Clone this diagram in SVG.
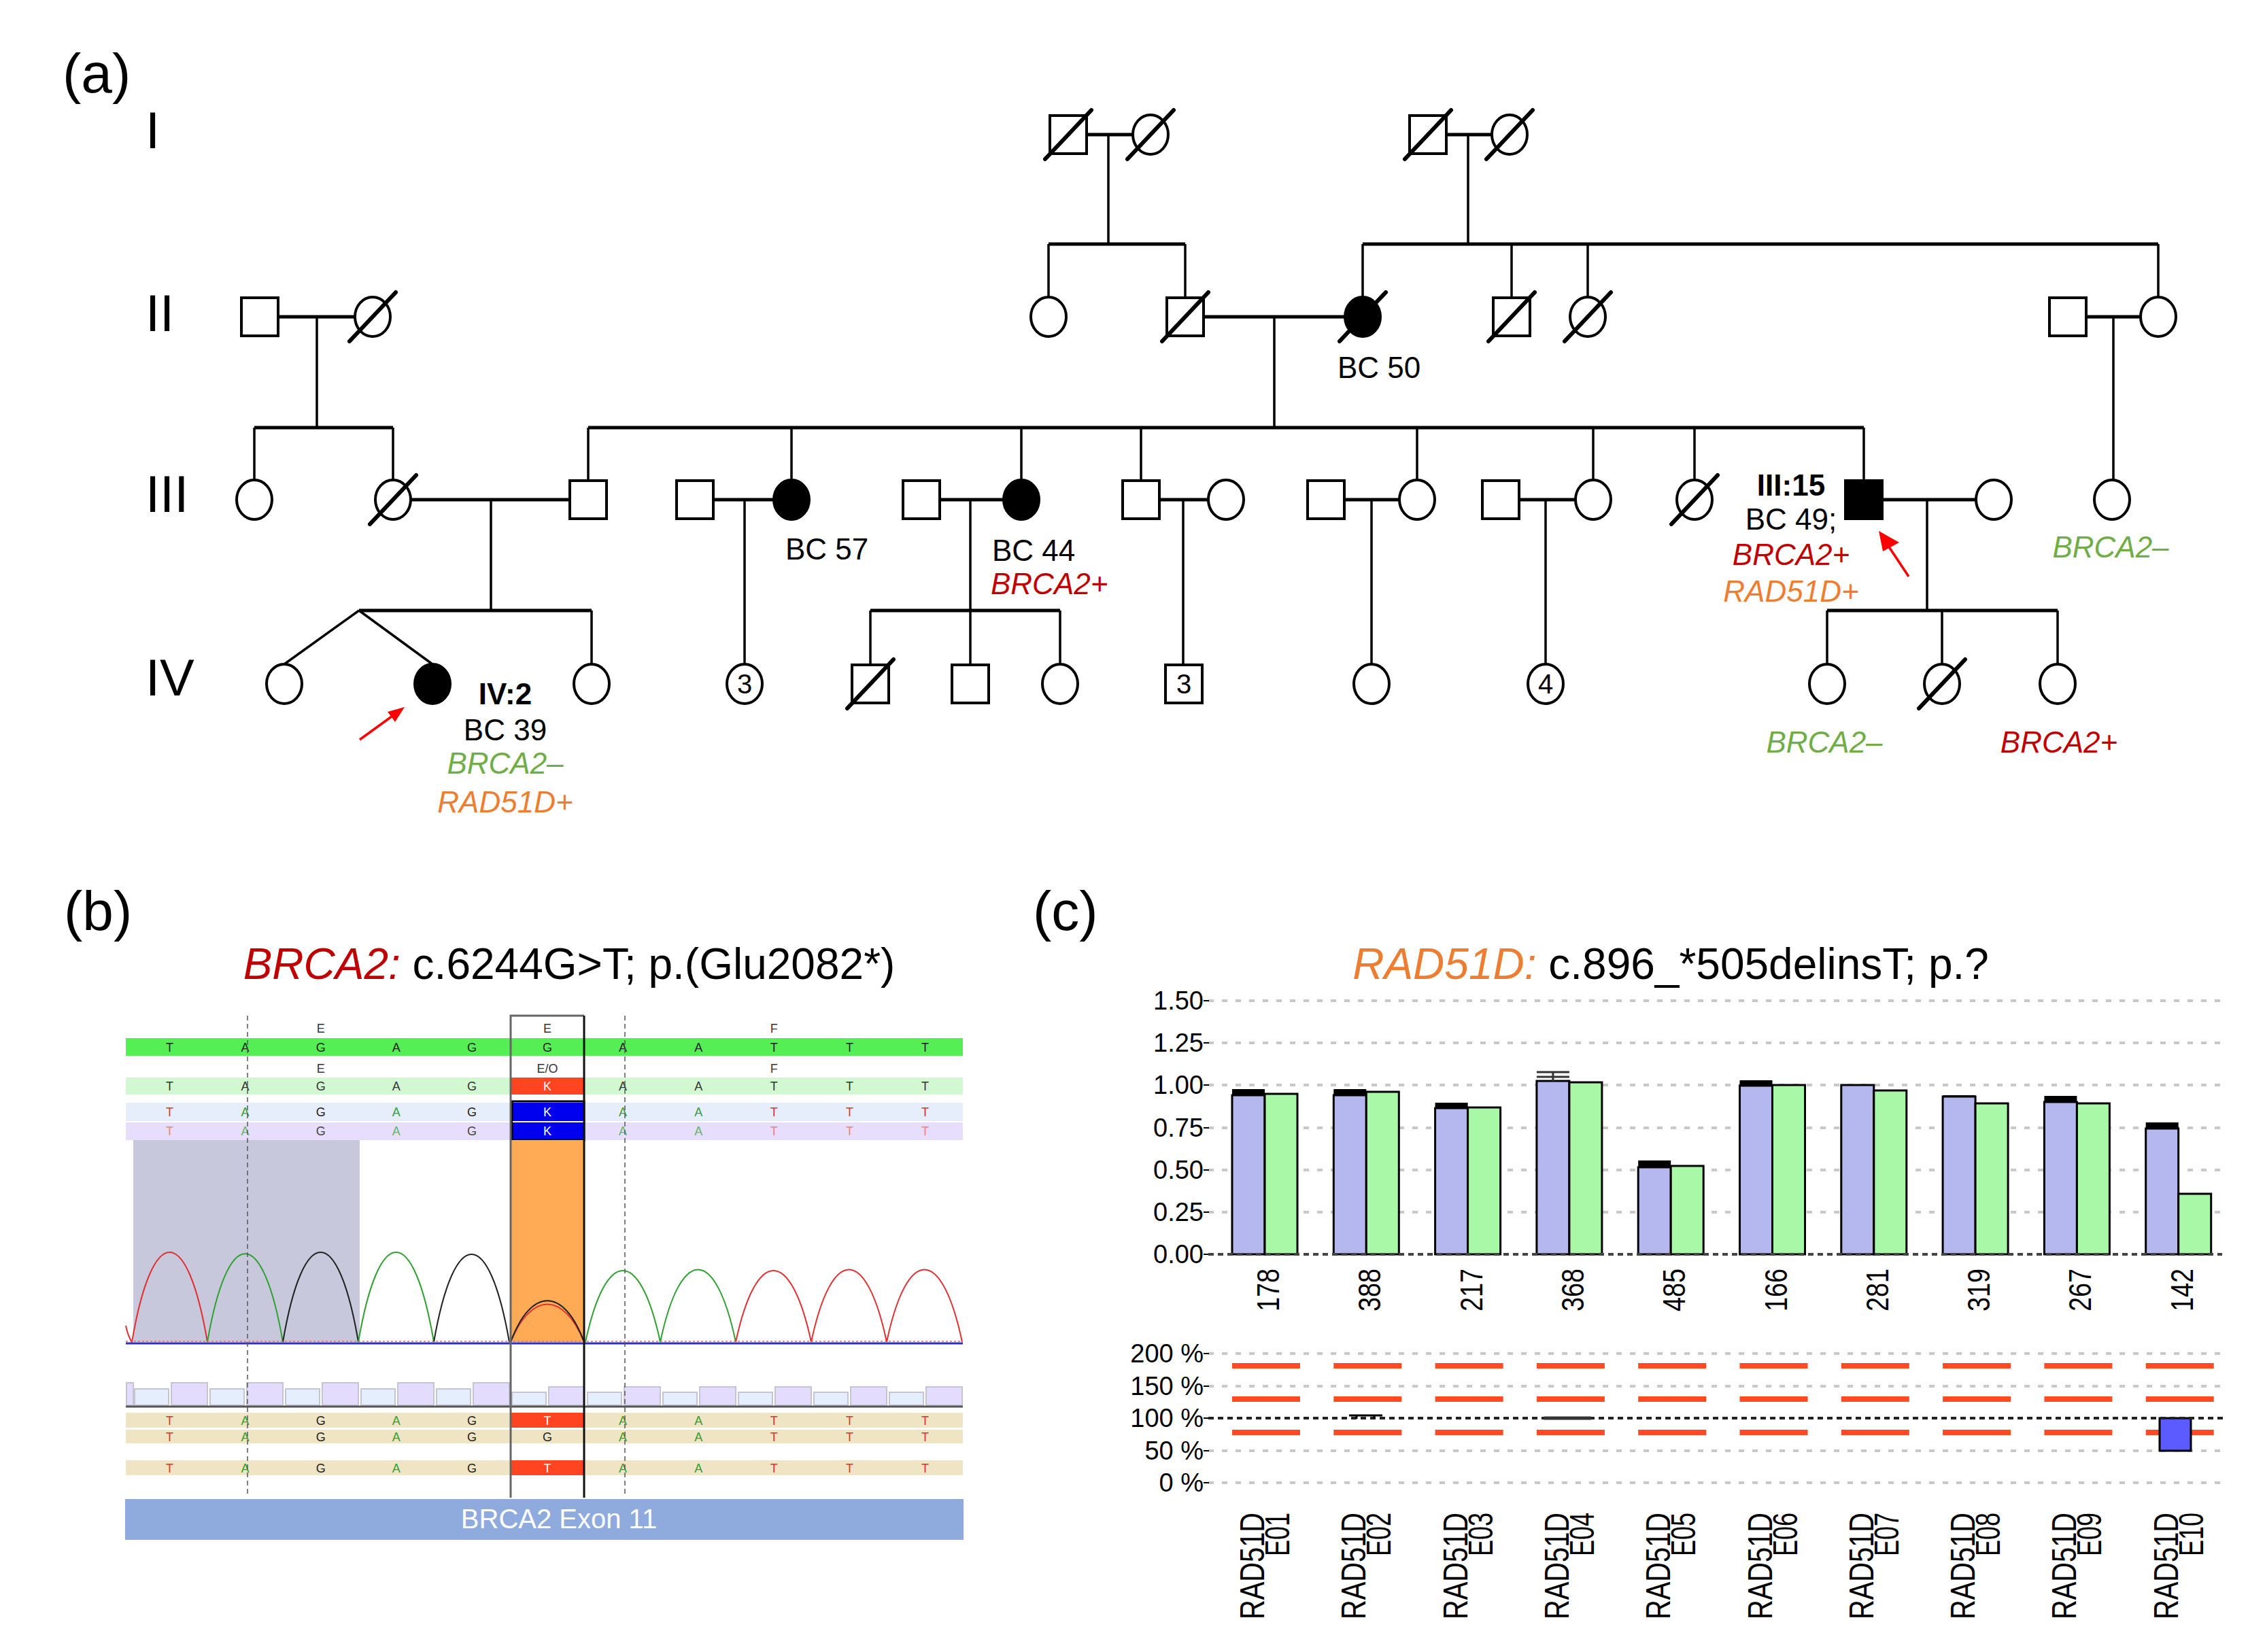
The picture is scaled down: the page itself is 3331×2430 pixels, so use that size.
<svg xmlns="http://www.w3.org/2000/svg" width="3331" height="2430" viewBox="0 0 3331 2430">
<style>
text{font-family:"Liberation Sans",Arial,sans-serif}
.sym{fill:#fff;stroke:#000;stroke-width:4}
.aff{fill:#000;stroke:#000;stroke-width:4}
.dec{stroke:#000;stroke-width:6;stroke-linecap:round}
.ln{fill:none;stroke:#000;stroke-width:3.5}
.hl{fill:none;stroke:#000;stroke-width:5}
.lbl{font-size:44px;fill:#000}
.b{font-weight:bold}
.red{fill:#c00000;font-style:italic}
.grn{fill:#70ad47;font-style:italic}
.org{fill:#ed7d31;font-style:italic}
.gen{font-size:76px;fill:#000}
.pan{font-size:82px;fill:#000}
.num{font-size:40px;fill:#000;text-anchor:middle}
.sq{font-size:18px;text-anchor:middle}
.t{fill:#e03030}.a{fill:#30a030}.g{fill:#222}.w{fill:#fff}
.tl{fill:#f08080}.al{fill:#60b860}.gl{fill:#444}
.grid{stroke:#c8c8c8;stroke-width:4;stroke-dasharray:8 12}
.ax{font-size:38px;fill:#000;text-anchor:end}
.bb{fill:#b4b8ee;stroke:#000;stroke-width:3}
.gb{fill:#a8f8a8;stroke:#000;stroke-width:3}
.rd{stroke:#ff4a22;stroke-width:8}
</style>

<!-- Panel labels -->
<text class="pan" x="92" y="136">(a)</text>
<text class="pan" x="94" y="1368">(b)</text>
<text class="pan" x="1519" y="1368">(c)</text>

<!-- Generation labels -->
<text class="gen" x="214" y="218">I</text>
<text class="gen" x="214" y="487">II</text>
<text class="gen" x="214" y="753">III</text>
<text class="gen" x="214" y="1023">IV</text>

<!-- Connectors -->
<g id="connectors">
  <path class="hl" d="M1598,198H1666 M2127,198H2194"/>
  <path class="ln" d="M1630,198V359 M2159,198V359"/>
  <path class="hl" d="M1542,359H1743 M2004,359H3174"/>
  <path class="ln" d="M1542,359V437 M1743,359V438 M2004,359V437 M2223,359V438 M2335,359V437 M3174,359V437"/>
  <path class="hl" d="M409,466H522 M1770,466H1978 M3068,466H3148"/>
  <path class="ln" d="M466,466V629 M1874,466V629 M3108,466V706"/>
  <path class="hl" d="M374,629H578 M865,629H2741"/>
  <path class="ln" d="M374,629V706 M578,629V706 M865,629V707 M1164,629V706 M1502,629V706 M1678,629V707 M2084,629V706 M2343,629V706 M2492,629V706 M2741,629V707"/>
  <path class="hl" d="M604,735H838 M1049,735H1138 M1382,735H1476 M1705,735H1777 M1977,735H2058 M2234,735H2317 M2768,735H2906"/>
  <path class="ln" d="M722,735V898 M1095,735V977 M1427,735V978 M1740,735V978 M2017,735V977 M2273,735V977 M2834,735V898"/>
  <path class="hl" d="M528,898H870 M1280,898H1559 M2687,898H3026"/>
  <path class="ln" d="M528,898L418,977 M528,898L636,977 M870,898V977 M1280,898V978 M1559,898V977 M2687,898V977 M2856,898V977 M3026,898V977"/>
</g>

<!-- Generation I -->
<g id="I-1"><rect class="sym" x="1544" y="170" width="54" height="56"/><line class="dec" x1="1537" y1="234" x2="1605" y2="162"/></g>
<g id="I-2"><ellipse class="sym" cx="1692" cy="198" rx="26" ry="29"/><line class="dec" x1="1658" y1="234" x2="1726" y2="162"/></g>
<g id="I-3"><rect class="sym" x="2073" y="170" width="54" height="56"/><line class="dec" x1="2066" y1="234" x2="2134" y2="162"/></g>
<g id="I-4"><ellipse class="sym" cx="2220" cy="198" rx="26" ry="29"/><line class="dec" x1="2186" y1="234" x2="2254" y2="162"/></g>

<!-- Generation II -->
<g id="II-1"><rect class="sym" x="355" y="438" width="54" height="56"/></g>
<g id="II-2"><ellipse class="sym" cx="548" cy="466" rx="26" ry="29"/><line class="dec" x1="514" y1="502" x2="582" y2="430"/></g>
<g id="II-3"><ellipse class="sym" cx="1542" cy="466" rx="26" ry="29"/></g>
<g id="II-4"><rect class="sym" x="1716" y="438" width="54" height="56"/><line class="dec" x1="1709" y1="502" x2="1777" y2="430"/></g>
<g id="II-5"><ellipse class="aff" cx="2004" cy="466" rx="26" ry="29"/><line class="dec" x1="1970" y1="502" x2="2038" y2="430"/><text class="lbl" x="1967" y="556">BC 50</text></g>
<g id="II-6"><rect class="sym" x="2196" y="438" width="54" height="56"/><line class="dec" x1="2189" y1="502" x2="2257" y2="430"/></g>
<g id="II-7"><ellipse class="sym" cx="2335" cy="466" rx="26" ry="29"/><line class="dec" x1="2301" y1="502" x2="2369" y2="430"/></g>
<g id="II-8"><rect class="sym" x="3014" y="438" width="54" height="56"/></g>
<g id="II-9"><ellipse class="sym" cx="3174" cy="466" rx="26" ry="29"/></g>

<!-- Generation III -->
<g id="III-1"><ellipse class="sym" cx="374" cy="735" rx="26" ry="29"/></g>
<g id="III-2"><ellipse class="sym" cx="578" cy="735" rx="26" ry="29"/><line class="dec" x1="544" y1="771" x2="612" y2="699"/></g>
<g id="III-3"><rect class="sym" x="838" y="707" width="54" height="56"/></g>
<g id="III-4"><rect class="sym" x="995" y="707" width="54" height="56"/></g>
<g id="III-5"><ellipse class="aff" cx="1164" cy="735" rx="26" ry="29"/><text class="lbl" x="1155" y="823">BC 57</text></g>
<g id="III-6"><rect class="sym" x="1328" y="707" width="54" height="56"/></g>
<g id="III-7"><ellipse class="aff" cx="1502" cy="735" rx="26" ry="29"/><text class="lbl" x="1459" y="825">BC 44</text><text class="lbl red" x="1457" y="874">BRCA2+</text></g>
<g id="III-8"><rect class="sym" x="1651" y="707" width="54" height="56"/></g>
<g id="III-9"><ellipse class="sym" cx="1803" cy="735" rx="26" ry="29"/></g>
<g id="III-10"><rect class="sym" x="1923" y="707" width="54" height="56"/></g>
<g id="III-11"><ellipse class="sym" cx="2084" cy="735" rx="26" ry="29"/></g>
<g id="III-12"><rect class="sym" x="2180" y="707" width="54" height="56"/></g>
<g id="III-13"><ellipse class="sym" cx="2343" cy="735" rx="26" ry="29"/></g>
<g id="III-14"><ellipse class="sym" cx="2492" cy="735" rx="26" ry="29"/><line class="dec" x1="2458" y1="771" x2="2526" y2="699"/></g>
<g id="III-15"><rect class="aff" x="2714" y="707" width="54" height="56"/>
  <text class="lbl b" x="2634" y="729" text-anchor="middle">III:15</text>
  <text class="lbl" x="2634" y="779" text-anchor="middle">BC 49;</text>
  <text class="lbl red" x="2634" y="831" text-anchor="middle">BRCA2+</text>
  <text class="lbl org" x="2634" y="885" text-anchor="middle">RAD51D+</text>
  <line x1="2807" y1="848" x2="2775" y2="800" stroke="#f00" stroke-width="3.5"/>
  <polygon points="2763,781 2793,798 2769,811" fill="#f00"/></g>
<g id="III-16"><ellipse class="sym" cx="2932" cy="735" rx="26" ry="29"/></g>
<g id="III-17"><ellipse class="sym" cx="3106" cy="735" rx="26" ry="29"/><text class="lbl grn" x="3104" y="820" text-anchor="middle">BRCA2–</text></g>

<!-- Generation IV -->
<g id="IV-1"><ellipse class="sym" cx="418" cy="1006" rx="26" ry="29"/></g>
<g id="IV-2"><ellipse class="aff" cx="636" cy="1006" rx="26" ry="29"/>
  <text class="lbl b" x="743" y="1036" text-anchor="middle">IV:2</text>
  <text class="lbl" x="743" y="1089" text-anchor="middle">BC 39</text>
  <text class="lbl grn" x="743" y="1138" text-anchor="middle">BRCA2–</text>
  <text class="lbl org" x="743" y="1195" text-anchor="middle">RAD51D+</text>
  <line x1="529" y1="1088" x2="580" y2="1051" stroke="#f00" stroke-width="3.5"/>
  <polygon points="595,1040 581,1062 570,1047" fill="#f00"/></g>
<g id="IV-3"><ellipse class="sym" cx="870" cy="1006" rx="26" ry="29"/></g>
<g id="IV-4"><ellipse class="sym" cx="1095" cy="1006" rx="26" ry="29"/><text class="num" x="1095" y="1020">3</text></g>
<g id="IV-5"><rect class="sym" x="1253" y="978" width="54" height="56"/><line class="dec" x1="1246" y1="1042" x2="1314" y2="970"/></g>
<g id="IV-6"><rect class="sym" x="1400" y="978" width="54" height="56"/></g>
<g id="IV-7"><ellipse class="sym" cx="1559" cy="1006" rx="26" ry="29"/></g>
<g id="IV-8"><rect class="sym" x="1714" y="978" width="54" height="56"/><text class="num" x="1741" y="1020">3</text></g>
<g id="IV-9"><ellipse class="sym" cx="2017" cy="1006" rx="26" ry="29"/></g>
<g id="IV-10"><ellipse class="sym" cx="2273" cy="1006" rx="26" ry="29"/><text class="num" x="2273" y="1020">4</text></g>
<g id="IV-11"><ellipse class="sym" cx="2687" cy="1006" rx="26" ry="29"/><text class="lbl grn" x="2683" y="1107" text-anchor="middle">BRCA2–</text></g>
<g id="IV-12"><ellipse class="sym" cx="2856" cy="1006" rx="26" ry="29"/><line class="dec" x1="2822" y1="1042" x2="2890" y2="970"/></g>
<g id="IV-13"><ellipse class="sym" cx="3026" cy="1006" rx="26" ry="29"/><text class="lbl red" x="3028" y="1107" text-anchor="middle">BRCA2+</text></g>

<!-- Panel (b) -->
<g id="panel-b">
  <text x="837" y="1440" font-size="64" text-anchor="middle"><tspan fill="#c00000" font-style="italic">BRCA2:</tspan> c.6244G&gt;T; p.(Glu2082*)</text>
  <text class="sq" fill="#333" y="1519"><tspan x="471.7">E</tspan><tspan x="805">E</tspan><tspan x="1138.3">F</tspan></text>
  <text class="sq" fill="#333" y="1578"><tspan x="471.7">E</tspan><tspan x="805">E/O</tspan><tspan x="1138.3">F</tspan></text>
  <rect x="185" y="1527" width="1231" height="26" fill="#55ee55"/>
  <rect x="185" y="1585" width="1231" height="25" fill="#d2f8d2"/>
  <rect x="751" y="1585" width="108" height="25" fill="#ff4422"/>
  <rect x="185" y="1622" width="1231" height="27" fill="#e6eefc"/>
  <rect x="185" y="1651" width="1231" height="26" fill="#e6defc"/>
  <rect x="754" y="1622" width="105" height="27" fill="#0000ee"/>
  <rect x="754" y="1651" width="105" height="26" fill="#0000ee"/>
  <rect x="753" y="1620" width="106" height="57" fill="none" stroke="#000" stroke-width="3"/>
  <line x1="754" y1="1650" x2="859" y2="1650" stroke="#fff" stroke-width="2"/>
  <rect x="196" y="1677" width="333" height="297" fill="#c8c8dc"/>
  <rect x="751" y="1677" width="108" height="297" fill="#ffaa55"/>
  <text class="sq" fill="#222" x="249.5 360.6 471.7 582.8 693.9 805 916.1 1027.2 1138.3 1249.4 1360.5" y="1547">TAGAGGAATTT</text>
  <text class="sq" fill="#333" y="1604"><tspan x="249.5">T</tspan><tspan x="360.6">A</tspan><tspan x="471.7">G</tspan><tspan x="582.8">A</tspan><tspan x="693.9">G</tspan><tspan x="805" class="w">K</tspan><tspan x="916.1">A</tspan><tspan x="1027.2">A</tspan><tspan x="1138.3">T</tspan><tspan x="1249.4">T</tspan><tspan x="1360.5">T</tspan></text>
  <text class="sq" y="1642"><tspan x="249.5" class="t">T</tspan><tspan x="360.6" class="a">A</tspan><tspan x="471.7" class="g">G</tspan><tspan x="582.8" class="a">A</tspan><tspan x="693.9" class="g">G</tspan><tspan x="805" class="w">K</tspan><tspan x="916.1" class="a">A</tspan><tspan x="1027.2" class="a">A</tspan><tspan x="1138.3" class="t">T</tspan><tspan x="1249.4" class="t">T</tspan><tspan x="1360.5" class="t">T</tspan></text>
  <text class="sq" y="1670"><tspan x="249.5" class="tl">T</tspan><tspan x="360.6" class="al">A</tspan><tspan x="471.7" class="gl">G</tspan><tspan x="582.8" class="al">A</tspan><tspan x="693.9" class="gl">G</tspan><tspan x="805" class="w">K</tspan><tspan x="916.1" class="al">A</tspan><tspan x="1027.2" class="al">A</tspan><tspan x="1138.3" class="tl">T</tspan><tspan x="1249.4" class="tl">T</tspan><tspan x="1360.5" class="tl">T</tspan></text>
  <g fill="none" stroke-width="2">
    <path stroke="#e03030" d="M185,1950 Q188,1965 194,1974 C224,1798 275,1798 305,1974"/>
    <path stroke="#30a030" d="M305,1974 C335,1801 386,1801 416,1974"/>
    <path stroke="#222" d="M416,1974 C446,1798 497,1798 527,1974"/>
    <path stroke="#30a030" d="M527,1974 C557,1798 608,1798 638,1974"/>
    <path stroke="#222" d="M638,1974 C668,1802 719,1802 749,1974"/>
    <path stroke="#e03030" d="M751,1974 C781,1900 829,1900 859,1974"/>
    <path stroke="#222" d="M751,1974 C781,1893 829,1893 859,1974"/>
    <path stroke="#30a030" d="M861,1974 C891,1834 941,1834 971,1974"/>
    <path stroke="#30a030" d="M971,1974 C1001,1832 1052,1832 1082,1974"/>
    <path stroke="#e03030" d="M1082,1974 C1112,1834 1163,1834 1193,1974"/>
    <path stroke="#e03030" d="M1193,1974 C1223,1832 1274,1832 1304,1974"/>
    <path stroke="#e03030" d="M1304,1974 C1334,1832 1385,1832 1415,1974"/>
  </g>
  <line x1="185" y1="1976" x2="1416" y2="1976" stroke="#3030c0" stroke-width="3"/>
  <line x1="185" y1="1973" x2="1416" y2="1973" stroke="#ff6060" stroke-width="1.5" stroke-dasharray="3 3"/>
  <g stroke="#c4c4d4" stroke-width="2">
    <rect x="186" y="2034" width="10" height="33" fill="#e4dcfc"/>
    <rect x="198" y="2043" width="50" height="24" fill="#e4eefc"/><rect x="252" y="2034" width="53" height="33" fill="#e4dcfc"/>
    <rect x="309" y="2043" width="50" height="24" fill="#e4eefc"/><rect x="363" y="2034" width="53" height="33" fill="#e4dcfc"/>
    <rect x="420" y="2043" width="50" height="24" fill="#e4eefc"/><rect x="474" y="2034" width="53" height="33" fill="#e4dcfc"/>
    <rect x="531" y="2043" width="50" height="24" fill="#e4eefc"/><rect x="585" y="2034" width="53" height="33" fill="#e4dcfc"/>
    <rect x="642" y="2043" width="50" height="24" fill="#e4eefc"/><rect x="696" y="2034" width="53" height="33" fill="#e4dcfc"/>
    <rect x="753" y="2048" width="50" height="19" fill="#e4eefc"/><rect x="807" y="2040" width="52" height="27" fill="#e4dcfc"/>
    <rect x="864" y="2048" width="50" height="19" fill="#e4eefc"/><rect x="918" y="2040" width="53" height="27" fill="#e4dcfc"/>
    <rect x="975" y="2048" width="50" height="19" fill="#e4eefc"/><rect x="1029" y="2040" width="53" height="27" fill="#e4dcfc"/>
    <rect x="1086" y="2048" width="50" height="19" fill="#e4eefc"/><rect x="1140" y="2040" width="53" height="27" fill="#e4dcfc"/>
    <rect x="1197" y="2048" width="50" height="19" fill="#e4eefc"/><rect x="1251" y="2040" width="53" height="27" fill="#e4dcfc"/>
    <rect x="1308" y="2048" width="50" height="19" fill="#e4eefc"/><rect x="1362" y="2040" width="53" height="27" fill="#e4dcfc"/>
  </g>
  <line x1="185" y1="2069" x2="1416" y2="2069" stroke="#555" stroke-width="3"/>
  <rect x="185" y="2078" width="1231" height="22" fill="#efe4c4"/>
  <rect x="185" y="2103" width="1231" height="20" fill="#efe4c4"/>
  <rect x="185" y="2148" width="1231" height="22" fill="#efe4c4"/>
  <rect x="751" y="2078" width="108" height="22" fill="#ff4422"/>
  <rect x="751" y="2148" width="108" height="22" fill="#ff4422"/>
  <text class="sq" y="2096"><tspan x="249.5" class="t">T</tspan><tspan x="360.6" class="a">A</tspan><tspan x="471.7" class="g">G</tspan><tspan x="582.8" class="a">A</tspan><tspan x="693.9" class="g">G</tspan><tspan x="805" class="w">T</tspan><tspan x="916.1" class="a">A</tspan><tspan x="1027.2" class="a">A</tspan><tspan x="1138.3" class="t">T</tspan><tspan x="1249.4" class="t">T</tspan><tspan x="1360.5" class="t">T</tspan></text>
  <text class="sq" y="2120"><tspan x="249.5" class="t">T</tspan><tspan x="360.6" class="a">A</tspan><tspan x="471.7" class="g">G</tspan><tspan x="582.8" class="a">A</tspan><tspan x="693.9" class="g">G</tspan><tspan x="805" class="g">G</tspan><tspan x="916.1" class="a">A</tspan><tspan x="1027.2" class="a">A</tspan><tspan x="1138.3" class="t">T</tspan><tspan x="1249.4" class="t">T</tspan><tspan x="1360.5" class="t">T</tspan></text>
  <text class="sq" y="2166"><tspan x="249.5" class="t">T</tspan><tspan x="360.6" class="a">A</tspan><tspan x="471.7" class="g">G</tspan><tspan x="582.8" class="a">A</tspan><tspan x="693.9" class="g">G</tspan><tspan x="805" class="w">T</tspan><tspan x="916.1" class="a">A</tspan><tspan x="1027.2" class="a">A</tspan><tspan x="1138.3" class="t">T</tspan><tspan x="1249.4" class="t">T</tspan><tspan x="1360.5" class="t">T</tspan></text>
  <line x1="364" y1="1494" x2="364" y2="2201" stroke="#555" stroke-width="1.5" stroke-dasharray="7 5"/>
  <line x1="919" y1="1494" x2="919" y2="2201" stroke="#555" stroke-width="1.5" stroke-dasharray="7 5"/>
  <path d="M751,2203V1494H859" fill="none" stroke="#666" stroke-width="3"/>
  <line x1="859" y1="1494" x2="859" y2="2203" stroke="#111" stroke-width="3"/>
  <rect x="184" y="2205" width="1233" height="60" fill="#8faadc"/>
  <text x="822" y="2248" font-size="40" fill="#fff" text-anchor="middle">BRCA2 Exon 11</text>
</g>

<!-- Panel (c) -->
<g id="panel-c">
  <text x="2457" y="1440" font-size="64" text-anchor="middle"><tspan fill="#ed7d31" font-style="italic">RAD51D:</tspan> c.896_*505delinsT; p.?</text>
  <g class="grid">
    <line x1="1777" y1="1472" x2="3268" y2="1472"/>
    <line x1="1777" y1="1534" x2="3268" y2="1534"/>
    <line x1="1777" y1="1596" x2="3268" y2="1596"/>
    <line x1="1777" y1="1659" x2="3268" y2="1659"/>
    <line x1="1777" y1="1721" x2="3268" y2="1721"/>
    <line x1="1777" y1="1783" x2="3268" y2="1783"/>
  </g>
  <g stroke="#000" stroke-width="2">
    <line x1="1770" y1="1472" x2="1778" y2="1472"/><line x1="1770" y1="1534" x2="1778" y2="1534"/>
    <line x1="1770" y1="1596" x2="1778" y2="1596"/><line x1="1770" y1="1659" x2="1778" y2="1659"/>
    <line x1="1770" y1="1721" x2="1778" y2="1721"/><line x1="1770" y1="1783" x2="1778" y2="1783"/>
    <line x1="1770" y1="1845" x2="1778" y2="1845"/>
  </g>
  <text class="ax" x="1770" y="1485">1.50</text>
  <text class="ax" x="1770" y="1547">1.25</text>
  <text class="ax" x="1770" y="1609">1.00</text>
  <text class="ax" x="1770" y="1672">0.75</text>
  <text class="ax" x="1770" y="1734">0.50</text>
  <text class="ax" x="1770" y="1796">0.25</text>
  <text class="ax" x="1770" y="1858">0.00</text>
  <g>
    <rect class="bb" x="1812" y="1611" width="48" height="234"/><rect x="1812" y="1602" width="48" height="9" fill="#000"/><rect class="gb" x="1860" y="1609" width="48" height="236"/>
    <rect class="bb" x="1961.3" y="1611" width="48" height="234"/><rect x="1961.3" y="1602" width="48" height="9" fill="#000"/><rect class="gb" x="2009.3" y="1606" width="48" height="239"/>
    <rect class="bb" x="2110.6" y="1630" width="48" height="215"/><rect x="2110.6" y="1622" width="48" height="8" fill="#000"/><rect class="gb" x="2158.6" y="1629" width="48" height="216"/>
    <rect class="bb" x="2259.9" y="1590" width="48" height="255"/><rect class="gb" x="2307.9" y="1592" width="48" height="253"/>
    <path d="M2259.9,1577H2307.9 M2259.9,1584H2307.9" stroke="#333" stroke-width="3"/><line x1="2283.9" y1="1577" x2="2283.9" y2="1590" stroke="#333" stroke-width="3"/>
    <rect class="bb" x="2409.2" y="1717" width="48" height="128"/><rect x="2409.2" y="1707" width="48" height="10" fill="#000"/><rect class="gb" x="2457.2" y="1715" width="48" height="130"/>
    <rect class="bb" x="2558.5" y="1597" width="48" height="248"/><rect x="2558.5" y="1589" width="48" height="8" fill="#000"/><rect class="gb" x="2606.5" y="1596" width="48" height="249"/>
    <rect class="bb" x="2707.8" y="1596" width="48" height="249"/><rect class="gb" x="2755.8" y="1604" width="48" height="241"/>
    <rect class="bb" x="2857.1" y="1613" width="48" height="232"/><rect x="2857.1" y="1611" width="48" height="3" fill="#000"/><rect class="gb" x="2905.1" y="1623" width="48" height="222"/>
    <rect class="bb" x="3006.4" y="1621" width="48" height="224"/><rect x="3006.4" y="1612" width="48" height="9" fill="#000"/><rect class="gb" x="3054.4" y="1623" width="48" height="222"/>
    <rect class="bb" x="3155.7" y="1660" width="48" height="185"/><rect x="3155.7" y="1651" width="48" height="9" fill="#000"/><rect class="gb" x="3203.7" y="1756" width="48" height="89"/>
  </g>
  <line x1="1777" y1="1845" x2="3268" y2="1845" stroke="#444" stroke-width="4" stroke-dasharray="8 6"/>
  <g font-size="46" text-anchor="end">
    <text transform="translate(1881,1866) rotate(-90)" textLength="63" lengthAdjust="spacingAndGlyphs">178</text>
    <text transform="translate(2030.3,1866) rotate(-90)" textLength="63" lengthAdjust="spacingAndGlyphs">388</text>
    <text transform="translate(2179.6,1866) rotate(-90)" textLength="63" lengthAdjust="spacingAndGlyphs">217</text>
    <text transform="translate(2328.9,1866) rotate(-90)" textLength="63" lengthAdjust="spacingAndGlyphs">368</text>
    <text transform="translate(2478.2,1866) rotate(-90)" textLength="63" lengthAdjust="spacingAndGlyphs">485</text>
    <text transform="translate(2627.5,1866) rotate(-90)" textLength="63" lengthAdjust="spacingAndGlyphs">166</text>
    <text transform="translate(2776.8,1866) rotate(-90)" textLength="63" lengthAdjust="spacingAndGlyphs">281</text>
    <text transform="translate(2926.1,1866) rotate(-90)" textLength="63" lengthAdjust="spacingAndGlyphs">319</text>
    <text transform="translate(3075.4,1866) rotate(-90)" textLength="63" lengthAdjust="spacingAndGlyphs">267</text>
    <text transform="translate(3224.7,1866) rotate(-90)" textLength="63" lengthAdjust="spacingAndGlyphs">142</text>
  </g>
  <g class="grid">
    <line x1="1777" y1="1991" x2="3268" y2="1991"/>
    <line x1="1777" y1="2039" x2="3268" y2="2039"/>
    <line x1="1777" y1="2134" x2="3268" y2="2134"/>
    <line x1="1777" y1="2181" x2="3268" y2="2181"/>
  </g>
  <g stroke="#000" stroke-width="2">
    <line x1="1770" y1="1991" x2="1778" y2="1991"/><line x1="1770" y1="2039" x2="1778" y2="2039"/>
    <line x1="1770" y1="2086" x2="1778" y2="2086"/><line x1="1770" y1="2134" x2="1778" y2="2134"/>
    <line x1="1770" y1="2181" x2="1778" y2="2181"/>
  </g>
  <text class="ax" x="1770" y="2004">200 %</text>
  <text class="ax" x="1770" y="2052">150 %</text>
  <text class="ax" x="1770" y="2099">100 %</text>
  <text class="ax" x="1770" y="2147">50 %</text>
  <text class="ax" x="1770" y="2194">0 %</text>
  <g class="rd">
    <path d="M1812,2009h100 M1961.3,2009h100 M2110.6,2009h100 M2259.9,2009h100 M2409.2,2009h100 M2558.5,2009h100 M2707.8,2009h100 M2857.1,2009h100 M3006.4,2009h100 M3155.7,2009h100"/>
    <path d="M1812,2058h100 M1961.3,2058h100 M2110.6,2058h100 M2259.9,2058h100 M2409.2,2058h100 M2558.5,2058h100 M2707.8,2058h100 M2857.1,2058h100 M3006.4,2058h100 M3155.7,2058h100"/>
    <path d="M1812,2107h100 M1961.3,2107h100 M2110.6,2107h100 M2259.9,2107h100 M2409.2,2107h100 M2558.5,2107h100 M2707.8,2107h100 M2857.1,2107h100 M3006.4,2107h100 M3155.7,2107h100"/>
  </g>
  <rect x="3176" y="2086" width="46" height="48" fill="#5b5bff" stroke="#000" stroke-width="3"/>
  <line x1="1777" y1="2086" x2="3270" y2="2086" stroke="#222" stroke-width="4" stroke-dasharray="8 6"/>
  <path d="M1984,2082H2033 M1995,2082V2087 M2021,2082V2087" stroke="#000" stroke-width="3" fill="none"/>
  <line x1="2271" y1="2086" x2="2340" y2="2086" stroke="#333" stroke-width="5"/>
  <g font-size="50" text-anchor="end">
    <text transform="translate(1859,2225) rotate(-90)" textLength="157" lengthAdjust="spacingAndGlyphs">RAD51D</text>
    <text transform="translate(1896,2225) rotate(-90)" textLength="64" lengthAdjust="spacingAndGlyphs">E01</text>
    <text transform="translate(2008.3,2225) rotate(-90)" textLength="157" lengthAdjust="spacingAndGlyphs">RAD51D</text>
    <text transform="translate(2045.3,2225) rotate(-90)" textLength="64" lengthAdjust="spacingAndGlyphs">E02</text>
    <text transform="translate(2157.6,2225) rotate(-90)" textLength="157" lengthAdjust="spacingAndGlyphs">RAD51D</text>
    <text transform="translate(2194.6,2225) rotate(-90)" textLength="64" lengthAdjust="spacingAndGlyphs">E03</text>
    <text transform="translate(2306.9,2225) rotate(-90)" textLength="157" lengthAdjust="spacingAndGlyphs">RAD51D</text>
    <text transform="translate(2343.9,2225) rotate(-90)" textLength="64" lengthAdjust="spacingAndGlyphs">E04</text>
    <text transform="translate(2456.2,2225) rotate(-90)" textLength="157" lengthAdjust="spacingAndGlyphs">RAD51D</text>
    <text transform="translate(2493.2,2225) rotate(-90)" textLength="64" lengthAdjust="spacingAndGlyphs">E05</text>
    <text transform="translate(2605.5,2225) rotate(-90)" textLength="157" lengthAdjust="spacingAndGlyphs">RAD51D</text>
    <text transform="translate(2642.5,2225) rotate(-90)" textLength="64" lengthAdjust="spacingAndGlyphs">E06</text>
    <text transform="translate(2754.8,2225) rotate(-90)" textLength="157" lengthAdjust="spacingAndGlyphs">RAD51D</text>
    <text transform="translate(2791.8,2225) rotate(-90)" textLength="64" lengthAdjust="spacingAndGlyphs">E07</text>
    <text transform="translate(2904.1,2225) rotate(-90)" textLength="157" lengthAdjust="spacingAndGlyphs">RAD51D</text>
    <text transform="translate(2941.1,2225) rotate(-90)" textLength="64" lengthAdjust="spacingAndGlyphs">E08</text>
    <text transform="translate(3053.4,2225) rotate(-90)" textLength="157" lengthAdjust="spacingAndGlyphs">RAD51D</text>
    <text transform="translate(3090.4,2225) rotate(-90)" textLength="64" lengthAdjust="spacingAndGlyphs">E09</text>
    <text transform="translate(3202.7,2225) rotate(-90)" textLength="157" lengthAdjust="spacingAndGlyphs">RAD51D</text>
    <text transform="translate(3239.7,2225) rotate(-90)" textLength="64" lengthAdjust="spacingAndGlyphs">E10</text>
  </g>
</g>
</svg>
